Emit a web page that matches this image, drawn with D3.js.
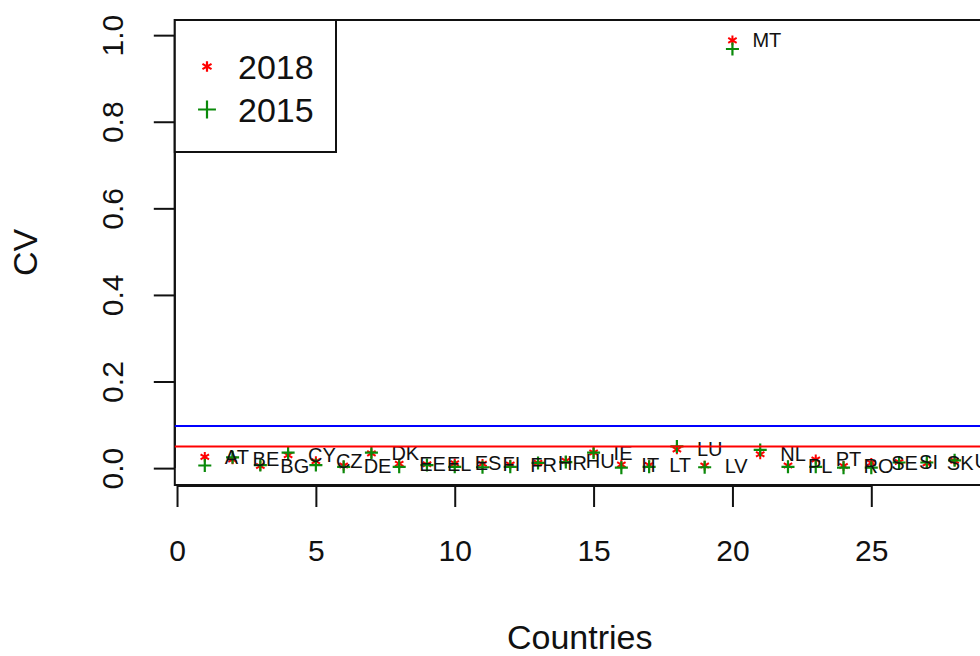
<!DOCTYPE html>
<html>
<head>
<meta charset="utf-8">
<script src="https://cdn.jsdelivr.net/npm/d3@7"></script>
<style>
  body { margin: 0; background: #fff; }
  svg { display: block; font-family: "Liberation Sans", Arial, sans-serif; }
</style>
</head>
<body>
<div id="chart"></div>
<script>
// values
const countries = ["AT", "BE", "BG", "CY", "CZ", "DE", "DK", "EE", "EL", "ES",
  "FI", "FR", "HR", "HU", "IE", "IT", "LT", "LU", "LV", "MT",
  "NL", "PL", "PT", "RO", "SE", "SI", "SK", "UK"];
const cv2018 = [0.026, 0.020, 0.005, 0.030, 0.016, 0.006, 0.034, 0.010, 0.009, 0.011,
  0.010, 0.008, 0.012, 0.017, 0.036, 0.008, 0.007, 0.043, 0.006, 0.988,
  0.032, 0.006, 0.020, 0.005, 0.012, 0.014, 0.011, 0.017];
const cv2015 = [0.006, 0.025, 0.007, 0.036, 0.007, 0.003, 0.036, 0.003, 0.007, 0.003,
  0.002, 0.003, 0.012, 0.014, 0.036, 0.001, 0.003, 0.050, 0.002, 0.968,
  0.042, 0.003, 0.003, 0.001, 0.001, 0.013, 0.013, 0.018];
const xTicks = [0, 5, 10, 15, 20, 25];
const yTicks = [0, 0.2, 0.4, 0.6, 0.8, 1.0];
const hLines = [{ v: 0.097, color: "#0000ff" }, { v: 0.05, color: "#ff0000" }];
const legendItems = ["2018", "2015"];

const width = 980, height = 656;
const red = "#ff0000", green = "#0a8a0a";
const ink = "#111";

const svg = d3.select("#chart").append("svg")
    .attr("width", width)
    .attr("height", height);

// plot region (R style usr extents)
const x = d3.scaleLinear().domain([-0.08, 29.08]).range([174.8, 984.6]);
const y = d3.scaleLinear().domain([-0.039, 1.035]).range([485, 20]);

// custom symbols: "*" asterisk and "+"
const asterisk = {
  draw(ctx, size) {
    const r = Math.sqrt(size) / 2;
    for (let a = 0; a < 3; a++) {
      const t = Math.PI / 2 + a * Math.PI / 3;
      ctx.moveTo(r * Math.cos(t), r * Math.sin(t));
      ctx.lineTo(-r * Math.cos(t), -r * Math.sin(t));
    }
  }
};
const plus = {
  draw(ctx, size) {
    const r = Math.sqrt(size) / 2;
    ctx.moveTo(-r, 0); ctx.lineTo(r, 0);
    ctx.moveTo(0, -r); ctx.lineTo(0, r);
  }
};

// box
svg.append("rect")
    .attr("x", x(-0.08))
    .attr("y", y(1.035))
    .attr("width", x(29.08) - x(-0.08))
    .attr("height", y(-0.039) - y(1.035))
    .attr("fill", "none")
    .attr("stroke", ink)
    .attr("stroke-width", 2);

// x axis
const gx = svg.append("g")
    .attr("transform", `translate(0,${y(-0.039) + 1})`)
    .call(d3.axisBottom(x).tickValues(xTicks).tickSize(21).tickPadding(33).tickFormat(d3.format("d")));
gx.select(".domain")
    .attr("d", `M${x(0)},0H${x(25)}`)
    .attr("stroke", ink).attr("stroke-width", 2);
gx.selectAll(".tick line").attr("stroke", ink).attr("stroke-width", 2);
gx.selectAll(".tick text")
    .attr("font-size", "30px")
    .attr("font-family", "Liberation Sans, Arial, sans-serif")
    .attr("fill", ink);

// y axis
const gy = svg.append("g")
    .attr("transform", `translate(${x(-0.08)},0)`)
    .call(d3.axisLeft(y).tickValues(yTicks).tickSize(21).tickFormat(d3.format(".1f")));
gy.select(".domain")
    .attr("d", `M0,${y(0)}V${y(1)}`)
    .attr("stroke", ink).attr("stroke-width", 2);
gy.selectAll(".tick line").attr("stroke", ink).attr("stroke-width", 2);
gy.selectAll(".tick text")
    .attr("x", null).attr("dy", null)
    .attr("transform", "translate(-62,0) rotate(-90)")
    .attr("text-anchor", "middle")
    .attr("dominant-baseline", "central")
    .attr("font-size", "30px")
    .attr("font-family", "Liberation Sans, Arial, sans-serif")
    .attr("fill", ink);

// axis titles
svg.append("text")
    .attr("x", (x(-0.08) + x(29.08)) / 2)
    .attr("y", 649)
    .attr("text-anchor", "middle")
    .attr("font-size", "34px")
    .attr("fill", ink)
    .text("Countries");

svg.append("text")
    .attr("transform", `translate(37,${(y(-0.039) + y(1.035)) / 2}) rotate(-90)`)
    .attr("text-anchor", "middle")
    .attr("font-size", "34px")
    .attr("fill", ink)
    .text("CV");

// points
svg.append("g").selectAll("path")
    .data(cv2018)
    .join("path")
    .attr("d", d3.symbol().type(asterisk).size(95))
    .attr("transform", (d, i) => `translate(${x(i + 1)},${y(d)})`)
    .attr("stroke", red)
    .attr("stroke-width", 2)
    .attr("fill", "none");

svg.append("g").selectAll("path")
    .data(cv2015)
    .join("path")
    .attr("d", d3.symbol().type(plus).size(170))
    .attr("transform", (d, i) => `translate(${x(i + 1)},${y(d)})`)
    .attr("stroke", green)
    .attr("stroke-width", 2.2)
    .attr("fill", "none");

// country labels, right of the 2018 point
svg.append("g").selectAll("text")
    .data(countries)
    .join("text")
    .attr("x", (d, i) => x(i + 1) + 20)
    .attr("y", (d, i) => y(cv2018[i]))
    .attr("dominant-baseline", "central")
    .attr("font-size", "20px")
    .attr("fill", ink)
    .text((d) => d);

// reference lines
svg.append("g").selectAll("line")
    .data(hLines)
    .join("line")
    .attr("x1", x(-0.08))
    .attr("x2", x(29.08))
    .attr("y1", (d) => y(d.v))
    .attr("y2", (d) => y(d.v))
    .attr("stroke", (d) => d.color)
    .attr("stroke-width", 2);

// legend
const legend = svg.append("g");
legend.append("rect")
    .attr("x", x(-0.08))
    .attr("y", y(1.035))
    .attr("width", 336 - x(-0.08))
    .attr("height", 132)
    .attr("fill", "#fff")
    .attr("stroke", ink)
    .attr("stroke-width", 2);

const legendRow = d3.scaleBand().domain(legendItems).range([45, 131]);
legend.selectAll("path")
    .data(legendItems)
    .join("path")
    .attr("d", (d, i) => d3.symbol().type(i === 0 ? asterisk : plus).size(i === 0 ? 110 : 320)())
    .attr("transform", (d) => `translate(207,${legendRow(d) + legendRow.bandwidth() / 2})`)
    .attr("stroke", (d, i) => i === 0 ? red : green)
    .attr("stroke-width", 2.2)
    .attr("fill", "none");

legend.selectAll("text")
    .data(legendItems)
    .join("text")
    .attr("x", 238)
    .attr("y", (d) => legendRow(d) + legendRow.bandwidth() / 2)
    .attr("dominant-baseline", "central")
    .attr("font-size", "34px")
    .attr("fill", ink)
    .text((d) => d);
</script>
</body>
</html>
